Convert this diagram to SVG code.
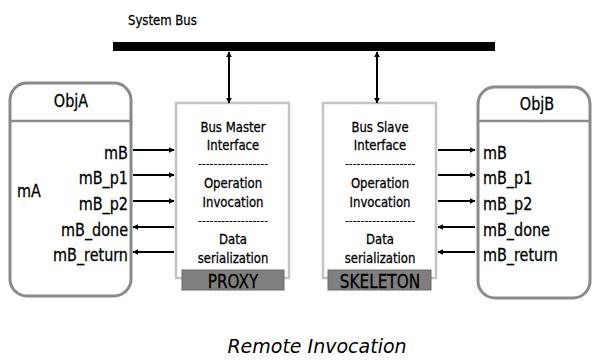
<svg xmlns="http://www.w3.org/2000/svg" width="595" height="361" viewBox="0 0 595 361">
  <defs>
    <marker id="head" viewBox="0 0 10 10" refX="9" refY="5" markerWidth="6" markerHeight="6" markerUnits="userSpaceOnUse" orient="auto-start-reverse">
      <path d="M0,0 L10,5 L0,10 Z" fill="#000"/>
    </marker>
    <style>
      text { font-family: "DejaVu Sans Condensed", "DejaVu Sans", sans-serif; fill: #000; stroke: #000; stroke-width: 0.25px; }
      .lbl { font-size: 16px; }
      .title { font-size: 16px; }
      .box { font-size: 13px; text-anchor: middle; }
      .dash { font-size: 12px; text-anchor: middle; stroke: none; }
      .tag { font-size: 17px; text-anchor: middle; }
      .obj { fill: #fff; stroke: #8a8a8a; stroke-width: 3; }
      .sep { stroke: #8a8a8a; stroke-width: 2.5; }
      .comp { fill: #fff; stroke: #c4c4c4; stroke-width: 2.5; }
      .bar { fill: #7f7f7f; stroke: #6a6a6a; stroke-width: 1; }
      .wire { stroke: #000; stroke-width: 2; fill: none; marker-end: url(#head); }
      .both { marker-start: url(#head); }
      .right { text-anchor: end; }
      .cap { font-family: "DejaVu Sans", sans-serif; font-style: italic; font-size: 19px; text-anchor: middle; stroke: none; }
    </style>
  </defs>
  <rect width="595" height="361" fill="#fff"/>

  <!-- system bus -->
  <g id="bus">
    <rect x="113" y="42" width="382" height="9" fill="#000"/>
    <text transform="translate(128,25) scale(1,1.15)" style="font-size:13px">System Bus</text>
  </g>

  <!-- caller object -->
  <g id="objA">
    <rect class="obj" x="10" y="83" width="121" height="213" rx="17"/>
    <line class="sep" x1="10" y1="121" x2="131" y2="121"/>
    <text class="title" transform="translate(71,107) scale(1,1.08)" text-anchor="middle">ObjA</text>
    <text class="lbl" transform="translate(17,197) scale(1,1.12)">mA</text>
    <text class="lbl right" transform="translate(128,159) scale(1,1.12)">mB</text>
    <text class="lbl right" transform="translate(128,184) scale(1,1.12)">mB_p1</text>
    <text class="lbl right" transform="translate(128,210) scale(1,1.12)">mB_p2</text>
    <text class="lbl right" transform="translate(128,236) scale(1,1.12)">mB_done</text>
    <text class="lbl right" transform="translate(128,261) scale(1,1.12)">mB_return</text>
  </g>

  <!-- proxy -->
  <g id="proxy">
    <rect class="comp" x="176" y="103" width="113" height="175"/>
    <text class="box" transform="translate(233,132) scale(1,1.15)">Bus Master</text>
    <text class="box" transform="translate(233,150) scale(1,1.15)">Interface</text>
    <text class="dash" x="233" y="168">------------------</text>
    <text class="box" transform="translate(233,188) scale(1,1.15)">Operation</text>
    <text class="box" transform="translate(233,207) scale(1,1.15)">Invocation</text>
    <text class="dash" x="233" y="225">------------------</text>
    <text class="box" transform="translate(233,244) scale(1,1.15)">Data</text>
    <text class="box" transform="translate(233,263) scale(1,1.15)">serialization</text>
    <rect class="bar" x="182" y="270" width="102" height="20"/>
    <text class="tag" transform="translate(233,288) scale(1,1.12)">PROXY</text>
  </g>

  <!-- skeleton -->
  <g id="skeleton">
    <rect class="comp" x="323" y="103" width="113" height="175"/>
    <text class="box" transform="translate(380,132) scale(1,1.15)">Bus Slave</text>
    <text class="box" transform="translate(380,150) scale(1,1.15)">Interface</text>
    <text class="dash" x="380" y="168">------------------</text>
    <text class="box" transform="translate(380,188) scale(1,1.15)">Operation</text>
    <text class="box" transform="translate(380,207) scale(1,1.15)">Invocation</text>
    <text class="dash" x="380" y="225">------------------</text>
    <text class="box" transform="translate(380,244) scale(1,1.15)">Data</text>
    <text class="box" transform="translate(380,263) scale(1,1.15)">serialization</text>
    <rect class="bar" x="328" y="270" width="103" height="20"/>
    <text class="tag" transform="translate(380,288) scale(1,1.12)">SKELETON</text>
  </g>

  <!-- callee object -->
  <g id="objB">
    <rect class="obj" x="478" y="87" width="112" height="211" rx="17"/>
    <line class="sep" x1="478" y1="121" x2="590" y2="121"/>
    <text class="title" transform="translate(537,110) scale(1,1.08)" text-anchor="middle">ObjB</text>
    <text class="lbl" transform="translate(483,159) scale(1,1.12)">mB</text>
    <text class="lbl" transform="translate(483,184) scale(1,1.12)">mB_p1</text>
    <text class="lbl" transform="translate(483,210) scale(1,1.12)">mB_p2</text>
    <text class="lbl" transform="translate(483,236) scale(1,1.12)">mB_done</text>
    <text class="lbl" transform="translate(483,261) scale(1,1.12)">mB_return</text>
  </g>

  <!-- connectors -->
  <g id="connectors">
    <line class="wire both" x1="229" y1="52" x2="229" y2="103"/>
    <line class="wire both" x1="377" y1="52" x2="377" y2="103"/>

    <line class="wire" x1="133" y1="150" x2="174" y2="150"/>
    <line class="wire" x1="133" y1="175" x2="174" y2="175"/>
    <line class="wire" x1="133" y1="201" x2="174" y2="201"/>
    <line class="wire" x1="174" y1="227" x2="133" y2="227"/>
    <line class="wire" x1="174" y1="252" x2="133" y2="252"/>

    <line class="wire" x1="438" y1="150" x2="475" y2="150"/>
    <line class="wire" x1="438" y1="175" x2="475" y2="175"/>
    <line class="wire" x1="438" y1="201" x2="475" y2="201"/>
    <line class="wire" x1="475" y1="227" x2="438" y2="227"/>
    <line class="wire" x1="475" y1="252" x2="438" y2="252"/>
  </g>

  <g id="caption">
    <text class="cap" x="317" y="353">Remote Invocation</text>
  </g>
</svg>
